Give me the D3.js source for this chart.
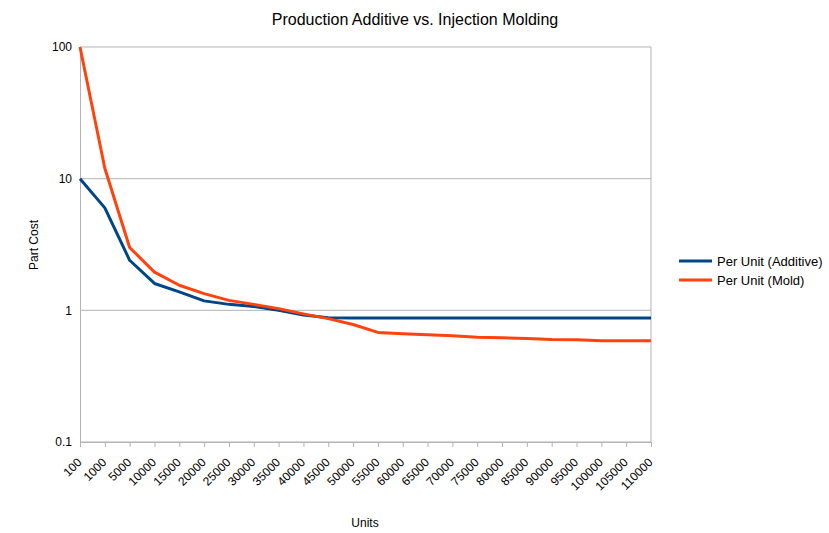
<!DOCTYPE html>
<html>
<head>
<meta charset="utf-8">
<script src="https://cdn.jsdelivr.net/npm/d3@7"></script>
<style>
  body { margin: 0; background: #fff; }
  text { font-family: "Liberation Sans", Arial, sans-serif; }
</style>
</head>
<body>
<div id="area"></div>
<script>
const units = ["100", "1000", "5000", "10000", "15000", "20000", "25000", "30000",
  "35000", "40000", "45000", "50000", "55000", "60000", "65000", "70000", "75000",
  "80000", "85000", "90000", "95000", "100000", "105000", "110000"];

const additive = [10, 6, 2.4, 1.6, 1.38, 1.18, 1.11, 1.07, 1.0, 0.92, 0.88, 0.875,
  0.875, 0.875, 0.875, 0.875, 0.875, 0.875, 0.875, 0.875, 0.875, 0.875, 0.875, 0.875];

const mold = [100, 12, 3, 1.95, 1.55, 1.34, 1.19, 1.11, 1.03, 0.94, 0.865, 0.78,
  0.68, 0.665, 0.653, 0.642, 0.625, 0.62, 0.61, 0.6, 0.598, 0.588, 0.588, 0.588];

const yTicks = [0.1, 1, 10, 100];

const width = 829;
const height = 533;
const margin = { top: 47, right: 178, bottom: 91, left: 80 };

const svg = d3.select("#area").append("svg")
  .attr("width", width)
  .attr("height", height);

const x = d3.scalePoint()
  .domain(units)
  .range([margin.left, width - margin.right]);

const y = d3.scaleLog()
  .domain([0.1, 100])
  .range([height - margin.bottom, margin.top]);

// gridlines
svg.append("g")
  .selectAll("line")
  .data(yTicks)
  .join("line")
  .attr("x1", margin.left)
  .attr("x2", width - margin.right)
  .attr("y1", (d) => y(d))
  .attr("y2", (d) => y(d))
  .attr("stroke", "#b3b3b3")
  .attr("stroke-width", 1);

// right border
svg.append("line")
  .attr("x1", width - margin.right)
  .attr("x2", width - margin.right)
  .attr("y1", margin.top)
  .attr("y2", height - margin.bottom)
  .attr("stroke", "#b3b3b3");

// y axis
const yAxis = svg.append("g")
  .attr("transform", `translate(${margin.left},0)`)
  .call(d3.axisLeft(y).tickValues(yTicks).tickFormat((d) => String(d)).tickSize(0).tickPadding(8));
yAxis.select(".domain").attr("stroke", "#b3b3b3");
yAxis.selectAll("text").attr("font-size", 12).attr("fill", "#000")
  .style("font-family", "Liberation Sans, Arial, sans-serif");

// x axis
const xAxis = svg.append("g")
  .attr("transform", `translate(0,${height - margin.bottom})`)
  .call(d3.axisBottom(x).tickSize(5).tickSizeOuter(0));
xAxis.select(".domain").attr("stroke", "#b3b3b3");
xAxis.selectAll(".tick line").attr("stroke", "#b3b3b3");
xAxis.selectAll("text")
  .attr("font-size", 12)
  .attr("fill", "#000")
  .style("font-family", "Liberation Sans, Arial, sans-serif")
  .attr("text-anchor", "end")
  .attr("x", 0)
  .attr("y", 0)
  .attr("dy", "0.35em")
  .attr("transform", "translate(-1,18) rotate(-45)");

// lines
const line = d3.line()
  .x((d, i) => x(units[i]))
  .y((d) => y(d));

svg.append("path")
  .attr("fill", "none")
  .attr("stroke", "#004586")
  .attr("stroke-width", 3)
  .attr("stroke-linejoin", "round")
  .attr("d", line(additive));

svg.append("path")
  .attr("fill", "none")
  .attr("stroke", "#ff420e")
  .attr("stroke-width", 3)
  .attr("stroke-linejoin", "round")
  .attr("d", line(mold));

// title and axis labels
svg.append("text")
  .attr("x", 415)
  .attr("y", 25)
  .attr("text-anchor", "middle")
  .attr("font-size", 16)
  .attr("fill", "#000")
  .text("Production Additive vs. Injection Molding");

svg.append("text")
  .attr("x", 365)
  .attr("y", 527)
  .attr("text-anchor", "middle")
  .attr("font-size", 12)
  .attr("fill", "#000")
  .text("Units");

svg.append("text")
  .attr("transform", "translate(38,245) rotate(-90)")
  .attr("text-anchor", "middle")
  .attr("font-size", 12)
  .attr("fill", "#000")
  .text("Part Cost");

// legend
const legend = [
  { name: "Per Unit (Additive)", color: "#004586" },
  { name: "Per Unit (Mold)", color: "#ff420e" },
];
const lg = svg.append("g").attr("transform", "translate(679,261)");
lg.selectAll("line")
  .data(legend)
  .join("line")
  .attr("x1", 0)
  .attr("x2", 33)
  .attr("y1", (d, i) => i * 19)
  .attr("y2", (d, i) => i * 19)
  .attr("stroke", (d) => d.color)
  .attr("stroke-width", 3);
lg.selectAll("text")
  .data(legend)
  .join("text")
  .attr("x", 38)
  .attr("y", (d, i) => i * 19)
  .attr("dy", "0.35em")
  .attr("font-size", 13)
  .attr("fill", "#000")
  .text((d) => d.name);
</script>
</body>
</html>
